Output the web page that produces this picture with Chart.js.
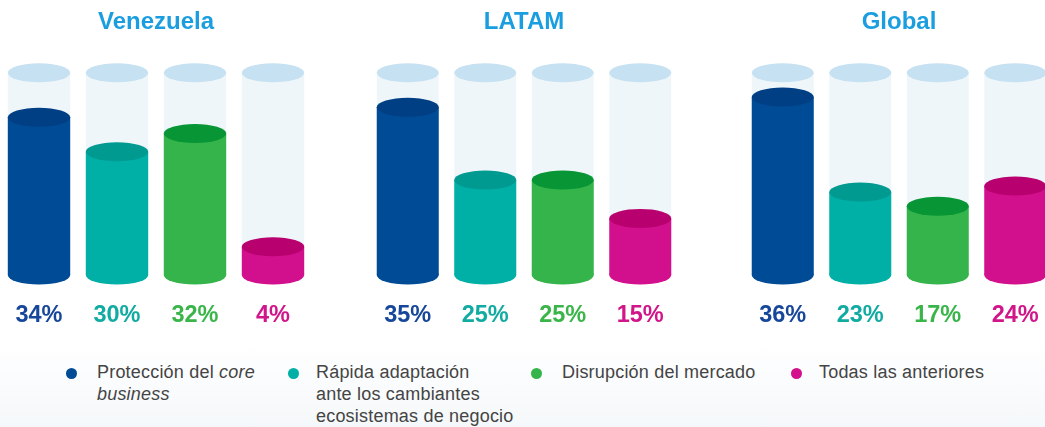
<!DOCTYPE html>
<html>
<head>
<meta charset="utf-8">
<script src="https://cdn.jsdelivr.net/npm/chart.js@4"></script>
<style>
  html, body { margin: 0; padding: 0; }
  body { width: 1045px; height: 427px; position: relative; overflow: hidden; background: #fff; font-family: 'Liberation Sans', Arial, sans-serif; }
  .group { position: absolute; top: 0; height: 340px; }
  .legend-bg { position: absolute; left: 0; top: 340px; width: 1045px; height: 87px; background: linear-gradient(#ffffff, #f5f8fa); }
  .dot { position: absolute; width: 11px; height: 11px; border-radius: 50%; }
  .lbl { position: absolute; font-size: 18px; line-height: 22px; color: #444; white-space: nowrap; letter-spacing: 0.2px; }
</style>
</head>
<body>
<div class="legend-bg"></div>
<div class="group" style="left:0;width:312px"><canvas id="chartVen"></canvas></div>
<div class="group" style="left:369px;width:310px"><canvas id="chartLatam"></canvas></div>
<div class="group" style="left:744px;width:310px"><canvas id="chartGlobal"></canvas></div>

<div class="dot" style="left:66px;top:368px;background:#004b96"></div>
<div class="lbl" style="left:97px;top:361px">Protección del <i>core</i><br><i>business</i></div>
<div class="dot" style="left:288px;top:368px;background:#00afa5"></div>
<div class="lbl" style="left:316px;top:361px">Rápida adaptación<br>ante los cambiantes<br>ecosistemas de negocio</div>
<div class="dot" style="left:531px;top:368px;background:#34b44a"></div>
<div class="lbl" style="left:562px;top:361px">Disrupción del mercado</div>
<div class="dot" style="left:791px;top:368px;background:#d20f8c"></div>
<div class="lbl" style="left:819px;top:361px">Todas las anteriores</div>

<script>
// ===== DATA =====
const groups = ['Venezuela', 'LATAM', 'Global'];
const answers = ['Protección del core business', 'Rápida adaptación ante los cambiantes ecosistemas de negocio', 'Disrupción del mercado', 'Todas las anteriores'];

// printed percentages
const venezuelaPct = [34, 30, 32, 4];
const latamPct = [35, 25, 25, 15];
const globalPct = [36, 23, 17, 24];

// how full each cylinder is drawn (% of the cylinder height)
const venezuelaFill = [78, 61, 70, 14];
const latamFill = [83, 47, 47, 28];
const globalFill = [88, 41, 34, 44];

// ===== STYLE =====
const bodyColors = ['#004b96', '#00afa5', '#34b44a', '#d20f8c'];
const topColors = ['#003f84', '#009a91', '#079535', '#b9006f'];
const textColors = ['#17479a', '#12aba2', '#3ab54a', '#d1168a'];
const emptyBody = '#eef6fa';
const emptyTop = '#c6e1f1';
const RY = 9.5;

function ellipse(ctx, x, y, rx, ry, color) {
    ctx.beginPath();
    ctx.ellipse(x, y, rx, ry, 0, 0, Math.PI * 2);
    ctx.fillStyle = color;
    ctx.fill();
}

const cylinderPlugin = {
    id: 'cylinders',
    beforeDatasetsDraw(chart) {
        const ctx = chart.ctx;
        const yScale = chart.scales.y;
        const top = yScale.getPixelForValue(100);
        const base = yScale.getPixelForValue(0);
        ctx.save();
        chart.getDatasetMeta(0).data.forEach(bar => {
            const rx = bar.width / 2;
            ctx.fillStyle = emptyBody;
            ctx.fillRect(bar.x - rx, top, rx * 2, base - top);
            ellipse(ctx, bar.x, top, rx, RY, emptyTop);
        });
        ctx.restore();
    },
    afterDatasetsDraw(chart) {
        const ctx = chart.ctx;
        const ds = chart.data.datasets[0];
        ctx.save();
        chart.getDatasetMeta(0).data.forEach((bar, i) => {
            const rx = bar.width / 2;
            ellipse(ctx, bar.x, bar.base, rx, RY, bodyColors[i]);
            ellipse(ctx, bar.x, bar.y, rx, RY, topColors[i]);
            ctx.font = 'bold 23.5px "Liberation Sans", Arial, sans-serif';
            ctx.textAlign = 'center';
            ctx.textBaseline = 'middle';
            ctx.fillStyle = textColors[i];
            ctx.fillText(ds.pct[i] + '%', bar.x, bar.base + 41);
        });
        ctx.restore();
    }
};

function makeChart(id, title, fill, pct) {
    new Chart(document.getElementById(id), {
        type: 'bar',
        data: {
            labels: answers,
            datasets: [{
                data: fill,
                pct: pct,
                backgroundColor: bodyColors,
                borderWidth: 0,
                barPercentage: 0.8,
                categoryPercentage: 1
            }]
        },
        options: {
            responsive: true,
            maintainAspectRatio: false,
            animation: false,
            events: [],
            layout: { padding: { left: 0, right: 0, top: 0, bottom: 65 } },
            scales: {
                x: { display: false },
                y: { display: false, min: 0, max: 100 }
            },
            plugins: {
                legend: { display: false },
                tooltip: { enabled: false },
                title: {
                    display: true,
                    text: title,
                    color: '#1a9ee0',
                    font: { family: '"Liberation Sans", Arial, sans-serif', size: 24, weight: 'bold' },
                    padding: { top: 8, bottom: 36 }
                }
            }
        },
        plugins: [cylinderPlugin]
    });
}

makeChart('chartVen', groups[0], venezuelaFill, venezuelaPct);
makeChart('chartLatam', groups[1], latamFill, latamPct);
makeChart('chartGlobal', groups[2], globalFill, globalPct);
</script>
</body>
</html>
